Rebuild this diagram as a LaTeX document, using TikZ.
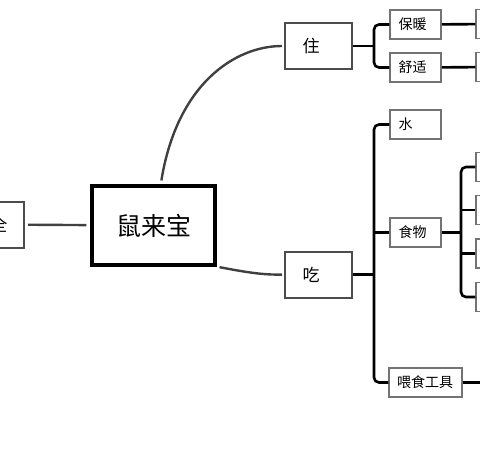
\documentclass[tikz,border=0pt]{standalone}
\usepackage{fontspec}
\setmainfont{Noto Sans CJK SC}

\begin{document}
\begin{tikzpicture}[x=0.5pt,y=-0.5pt]
    \useasboundingbox (0,0) rectangle (480,450);
    \clip (0,0) rectangle (480,450);

    \begin{scope}[every node/.style={draw=black,line width=1.6pt,minimum width=61.5pt,minimum height=39.5pt,font=\fontsize{12.5}{14}\selectfont}]
        \node (root) at (153.5,225.5) {鼠来宝};
    \end{scope}
    \begin{scope}[every node/.style={draw=black!70,line width=1pt,minimum height=23pt,inner xsep=8.75pt,text width=16pt,align=left,font=\fontsize{8.5}{10}\selectfont}]
        \node [text width=17pt,inner xsep=8.25pt](anquan) at (-9.5,224.5) {安全};
        \node (zhu) at (318.5,46) {住};
        \node (chi) at (318.5,274.5) {吃};
    \end{scope}
    \begin{scope}[every node/.style={draw=black!55,line width=0.75pt,minimum height=14.5pt,inner xsep=4.25pt,text width=17pt,align=left,font=\fontsize{7}{8}\selectfont}]
        \node (baonuan) at (415.5,24.5) {保暖};
        \node (shushi) at (415.5,67.5) {舒适};
        \node (shui) at (415.5,124.5) {水};
        \node (shiwu) at (415.5,232.5) {食物};
        \node [text width=28.5pt,inner xsep=4pt](weishi) at (425.5,382.5) {喂食工具};
        \node (r1) at (501.5,24) {};
        \node (r2) at (501.5,67) {};
        \node (f1) at (501.5,167) {};
        \node (f2) at (501.5,210) {};
        \node (f3) at (501.5,253.5) {};
        \node (f4) at (501.5,297) {};
    \end{scope}

    \coordinate (zj) at (374,46);
    \coordinate (cj) at (374,274.5);
    \coordinate (sj) at (461,232.5);
    \coordinate (wend) at (482,382.5);

    \begin{scope}[every path/.style={draw=black!75,line width=1.2pt}]
        \path (anquan) edge[shorten <=1.5pt,shorten >=2pt] (root);
        \path [shorten <=2pt,shorten >=1pt] (root.80) .. controls (177,84) and (235,46) .. (zhu.west);
        \path [shorten <=1.5pt,shorten >=1pt] (root.south east) .. controls (245,272) and (262,275) .. (chi.west);
    \end{scope}
    \begin{scope}[every path/.style={draw=black,line width=1.3pt,rounded corners=2.5pt}]
        \path (zhu) -- (zj);
        \path (baonuan) -| (zj) |- (shushi);
        \path (chi) -- (cj);
        \path (shui) -| (cj) |- (weishi);
        \path (shiwu) -- (shiwu -| cj);
        \path (shiwu) -- (sj);
        \path (f1) -| (sj) |- (f4);
        \path (f2) -- (f2 -| sj);
        \path (f3) -- (f3 -| sj);
        \path (baonuan) -- (r1);
        \path (shushi) -- (r2);
        \path (weishi) -- (wend);
    \end{scope}
\end{tikzpicture}
\end{document}
